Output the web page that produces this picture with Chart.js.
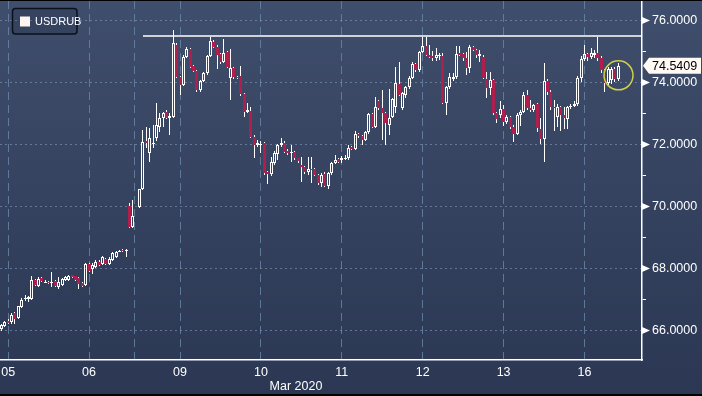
<!DOCTYPE html>
<html>
<head>
<meta charset="utf-8">
<title>USDRUB</title>
<script src="https://cdn.jsdelivr.net/npm/chart.js@4.4.1/dist/chart.umd.min.js"></script>
<style>
  html, body { margin: 0; padding: 0; background: #000; }
  #wrap {
    position: relative;
    width: 702px;
    height: 393px;
    margin-top: 1px;
    background: linear-gradient(to bottom, #3f4e6c 0%, #2b3753 100%);
  }
</style>
</head>
<body>
<div id="wrap"><canvas id="usdrub"></canvas></div>
<script>
/* USDRUB, velas de 1 hora, 5-16 marzo 2020 */

const seriesName = 'USDRUB';
const dayLabels = ['05', '06', '09', '10', '11', '12', '13', '16'];
const labelSlots = [2, 26, 53, 77, 101, 125, 149, 173];     // mediodia de cada sesion
const dayLineSlots = [14, 38, 41, 65, 89, 113, 137, 161];   // inicio de cada sesion
const priceTicks = [66, 67, 68, 69, 70, 71, 72, 73, 74, 75, 76];
const resistance = 75.5;
const resistanceFrom = 42;
const lastPrice = 74.5409;
const markSlot = 183.1;
const markPrice = 74.23;

// slots horarios con vela (el 40 queda vacio, fin de semana)
const slots = [];
for (let s = 0; s <= 183; s++) {
    if (s !== 40) slots.push(s);
}

const open = [
    66.05, 66.15, 66.32, 66.26, 66.56, 66.40, 66.76, 67.00, 67.00, 67.03,
    67.62, 67.42, 67.68, 67.56, 67.57, 67.55, 67.59, 67.41, 67.46, 67.62,
    67.64, 67.78, 67.75, 67.70, 67.53, 67.46, 68.14, 67.97, 68.05, 68.22,
    68.16, 68.32, 68.16, 68.29, 68.38, 68.55, 68.60, 68.56, 70.00, 69.35,
    69.99, 70.55, 72.10, 71.72, 72.00, 72.20, 72.58, 72.85, 73.04, 72.85,
    72.90, 75.20, 74.19, 73.92, 74.83, 75.08, 74.54, 74.37, 73.76, 74.05,
    74.30, 74.87, 75.32, 75.16, 74.91, 74.67, 74.97, 74.13, 74.46, 74.19,
    74.21, 73.63, 73.06, 73.09, 72.25, 71.98, 71.98, 72.04, 71.12, 71.05,
    71.40, 71.69, 71.98, 72.06, 71.80, 71.72, 71.77, 71.55, 71.34, 71.26,
    71.12, 71.22, 71.20, 71.02, 70.75, 71.05, 70.66, 71.07, 71.41, 71.52,
    71.50, 71.55, 71.55, 71.93, 71.85, 72.33, 72.28, 72.14, 72.39, 72.97,
    72.58, 73.40, 73.17, 73.00, 72.63, 72.90, 73.20, 73.94, 73.19, 73.60,
    73.87, 74.16, 74.59, 74.40, 74.99, 75.19, 74.89, 74.85, 74.80, 74.86,
    74.85, 73.33, 73.87, 74.12, 74.17, 74.95, 74.92, 74.78, 74.46, 75.13,
    75.05, 74.85, 74.83, 74.10, 73.81, 74.08, 73.01, 72.95, 73.14, 72.71,
    72.88, 72.58, 72.34, 72.95, 73.06, 73.60, 73.17, 73.11, 73.30, 72.50,
    72.17, 74.06, 73.70, 73.22, 72.90, 73.20, 72.95, 72.81, 73.20, 73.25,
    73.31, 74.13, 74.75, 74.92, 74.82, 74.88, 74.96, 74.78, 74.40, 73.97,
    74.08, 74.43, 74.12
];
const high = [
    66.22, 66.30, 66.36, 66.55, 66.60, 66.80, 67.05, 67.15, 67.12, 67.75,
    67.66, 67.73, 67.72, 67.62, 67.60, 67.89, 67.62, 67.73, 67.70, 67.76,
    67.78, 67.80, 67.77, 67.72, 67.55, 68.18, 68.17, 68.18, 68.28, 68.26,
    68.40, 68.35, 68.36, 68.52, 68.57, 68.60, 68.62, 68.62, 70.12, 70.22,
    70.58, 72.47, 72.58, 72.52, 72.63, 73.33, 73.00, 73.05, 73.10, 73.00,
    75.70, 75.28, 74.22, 74.90, 75.15, 75.12, 74.58, 74.40, 74.08, 74.35,
    74.90, 75.48, 75.36, 75.20, 74.95, 75.40, 75.00, 75.07, 74.50, 74.22,
    74.53, 73.66, 73.35, 73.20, 72.30, 72.15, 72.10, 72.08, 71.16, 71.60,
    71.78, 72.02, 72.20, 72.10, 71.84, 71.98, 71.80, 71.58, 71.60, 71.30,
    71.60, 71.60, 71.24, 71.06, 71.08, 71.10, 71.12, 71.45, 71.66, 71.56,
    71.62, 71.65, 71.98, 71.96, 72.42, 72.38, 72.31, 72.42, 73.00, 73.00,
    73.54, 73.44, 73.75, 73.05, 73.80, 73.50, 74.51, 74.65, 73.70, 73.90,
    74.20, 74.65, 74.62, 75.02, 75.48, 75.48, 75.20, 75.00, 75.10, 74.95,
    74.95, 73.90, 74.30, 74.32, 75.18, 75.18, 74.95, 74.98, 75.22, 75.18,
    75.08, 75.05, 74.88, 74.35, 74.35, 74.10, 73.05, 73.40, 73.28, 72.95,
    72.92, 72.62, 73.00, 73.10, 73.70, 73.75, 73.45, 73.32, 73.35, 72.84,
    74.62, 74.10, 73.75, 73.45, 73.30, 73.25, 73.20, 73.25, 73.30, 73.40,
    74.20, 74.85, 75.20, 74.95, 75.10, 75.05, 75.48, 74.85, 74.45, 74.50,
    74.50, 74.50, 74.62
];
const low = [
    65.98, 66.12, 66.20, 66.22, 66.22, 66.36, 66.74, 66.95, 66.92, 67.00,
    67.44, 67.40, 67.56, 67.52, 67.50, 67.41, 67.40, 67.35, 67.44, 67.60,
    67.62, 67.70, 67.60, 67.35, 67.40, 67.42, 67.90, 67.82, 68.02, 68.08,
    68.12, 68.12, 68.10, 68.26, 68.35, 68.52, 68.54, 68.36, 69.30, 69.30,
    69.95, 70.52, 71.90, 71.45, 71.88, 72.10, 72.40, 72.55, 72.82, 72.30,
    72.85, 74.15, 73.60, 73.88, 74.78, 74.48, 74.33, 73.70, 73.70, 74.00,
    74.25, 74.82, 75.12, 74.45, 74.60, 74.62, 74.48, 73.44, 74.12, 74.10,
    73.58, 72.90, 73.00, 72.20, 71.55, 71.92, 71.72, 71.02, 70.72, 70.98,
    71.35, 71.50, 71.92, 71.72, 71.66, 71.45, 71.50, 71.40, 70.80, 71.05,
    71.00, 70.75, 70.98, 70.70, 70.64, 70.62, 70.58, 71.02, 71.38, 71.42,
    71.40, 71.50, 71.50, 71.82, 71.82, 72.22, 71.98, 72.10, 72.35, 72.55,
    72.52, 73.12, 72.14, 71.98, 72.30, 72.85, 73.00, 73.55, 73.10, 73.50,
    73.80, 74.10, 74.35, 74.35, 74.95, 74.85, 74.78, 74.70, 74.70, 74.72,
    73.30, 72.95, 73.80, 74.05, 74.10, 74.85, 74.70, 74.25, 74.30, 75.00,
    74.80, 74.65, 74.10, 73.50, 73.60, 72.95, 72.70, 72.85, 72.60, 72.65,
    72.50, 72.09, 72.30, 72.60, 73.00, 73.10, 73.05, 73.05, 72.40, 72.00,
    71.45, 73.60, 73.10, 72.45, 72.55, 72.45, 72.50, 72.50, 73.15, 73.20,
    73.25, 74.00, 74.70, 74.70, 74.75, 74.80, 74.70, 74.30, 73.70, 73.90,
    73.95, 74.00, 74.05
];
const close = [
    66.18, 66.28, 66.24, 66.50, 66.36, 66.78, 66.99, 67.06, 67.08, 67.62,
    67.46, 67.67, 67.59, 67.58, 67.53, 67.58, 67.43, 67.57, 67.67, 67.73,
    67.75, 67.73, 67.62, 67.51, 67.43, 68.13, 67.92, 68.10, 68.22, 68.11,
    68.36, 68.16, 68.32, 68.49, 68.54, 68.58, 68.56, 68.60, 69.35, 69.68,
    70.55, 72.07, 72.04, 72.20, 72.05, 72.63, 72.87, 73.00, 72.85, 72.93,
    75.26, 74.19, 73.92, 74.83, 75.08, 74.51, 74.37, 73.76, 74.05, 74.30,
    74.87, 75.34, 75.16, 74.89, 74.67, 74.94, 74.51, 74.48, 74.17, 74.13,
    73.63, 73.06, 73.11, 72.25, 71.98, 72.04, 72.02, 71.07, 71.05, 71.45,
    71.72, 71.98, 72.06, 71.77, 71.72, 71.75, 71.55, 71.48, 71.26, 71.12,
    71.20, 71.19, 71.02, 70.75, 71.02, 70.66, 71.07, 71.41, 71.50, 71.45,
    71.56, 71.58, 71.90, 71.85, 72.33, 72.26, 72.14, 72.39, 72.97, 72.58,
    73.22, 73.17, 73.00, 72.68, 72.84, 73.47, 73.97, 73.60, 73.65, 73.87,
    74.16, 74.59, 74.40, 74.99, 75.19, 74.89, 74.83, 74.80, 74.89, 74.90,
    73.33, 73.87, 74.17, 74.17, 74.92, 74.89, 74.78, 74.46, 75.16, 75.05,
    74.89, 74.92, 74.13, 73.81, 74.08, 73.01, 72.81, 73.14, 72.71, 72.88,
    72.58, 72.34, 72.95, 73.06, 73.60, 73.17, 73.11, 73.27, 72.52, 72.17,
    74.06, 73.70, 73.22, 73.17, 73.20, 72.95, 72.85, 73.20, 73.25, 73.31,
    74.13, 74.75, 74.92, 74.82, 74.95, 74.95, 74.78, 74.40, 73.97, 74.43,
    74.43, 74.12, 74.5409
];

const fontFamily = '"Liberation Sans", Arial, sans-serif';
const upColor = '#ffffff';
const downColor = '#ae1f4d';
const xMin = -0.427;
const xMax = 190.07;
const yMin = 65.048;
const yMax = 76.629;

const isUp = close.map((c, i) => c >= open[i]);
const bodies = slots.map((s, i) => ({ x: s, y: [open[i], close[i]] }));
const upperWicks = slots.map((s, i) => ({ x: s, y: [Math.max(open[i], close[i]), high[i]] }));
const lowerWicks = slots.map((s, i) => ({ x: s, y: [low[i], Math.min(open[i], close[i])] }));

const wickStyle = {
    type: 'bar',
    backgroundColor: '#ffffff',
    borderWidth: 0,
    barThickness: 1,
    grouped: false,
    inflateAmount: 0,
    order: 3
};

// ajusta las barras a pixel entero para que las velas se vean nitidas
const pixelSnap = {
    id: 'pixelSnap',
    beforeDatasetsDraw(chart) {
        chart.data.datasets.forEach((ds, i) => {
            const meta = chart.getDatasetMeta(i);
            if (meta.type !== 'bar') return;
            meta.data.forEach(el => {
                el.x = Math.floor(el.x) + 0.5;
                el.y = Math.round(el.y);
                el.base = Math.round(el.base);
                if (Math.abs(el.base - el.y) < 1) el.base = el.y + 1;
            });
        });
    }
};

const extras = {
    id: 'extras',
    afterDraw(chart) {
        const { ctx, chartArea, scales: { x, y } } = chart;
        ctx.save();

        // marcas del eje de precios
        ctx.fillStyle = '#ffffff';
        priceTicks.filter(v => v % 2 === 0).forEach(v => {
            const py = y.getPixelForValue(v);
            ctx.beginPath();
            ctx.moveTo(chartArea.right, py - 3.5);
            ctx.lineTo(chartArea.right + 8, py);
            ctx.lineTo(chartArea.right, py + 3.5);
            ctx.closePath();
            ctx.fill();
        });

        // ultimo precio
        const ly = y.getPixelForValue(lastPrice);
        ctx.beginPath();
        ctx.moveTo(chartArea.right + 1, ly);
        ctx.lineTo(chartArea.right + 7, ly - 8);
        ctx.lineTo(chart.width - 1, ly - 8);
        ctx.lineTo(chart.width - 1, ly + 8);
        ctx.lineTo(chartArea.right + 7, ly + 8);
        ctx.closePath();
        ctx.fillStyle = '#fffaf4';
        ctx.fill();
        ctx.fillStyle = '#000000';
        ctx.font = '12.5px ' + fontFamily;
        ctx.textBaseline = 'middle';
        ctx.textAlign = 'left';
        ctx.fillText(lastPrice.toFixed(4), chartArea.right + 10, ly + 0.5);

        // circulo amarillo
        ctx.beginPath();
        ctx.arc(x.getPixelForValue(markSlot), y.getPixelForValue(markPrice), 14.5, 0, Math.PI * 2);
        ctx.strokeStyle = '#cfcf4a';
        ctx.lineWidth = 1.5;
        ctx.stroke();

        // leyenda
        ctx.beginPath();
        ctx.roundRect(12.5, 7.5, 64.5, 25.5, 3);
        ctx.fillStyle = 'rgba(30, 40, 62, 0.25)';
        ctx.fill();
        ctx.strokeStyle = '#0b111c';
        ctx.lineWidth = 1.5;
        ctx.stroke();
        ctx.fillStyle = '#fff5f0';
        ctx.fillRect(20, 15.5, 10, 10);
        ctx.fillStyle = '#ffffff';
        ctx.font = '11px "Liberation Sans Narrow", ' + fontFamily;
        ctx.fillText(seriesName, 35, 21);

        // mes
        ctx.font = '12.5px ' + fontFamily;
        ctx.textAlign = 'center';
        ctx.fillText('Mar 2020', 296, 386);
        ctx.restore();
    }
};

const ctx = document.getElementById('usdrub').getContext('2d');
const usdrubChart = new Chart(ctx, {
    type: 'bar',
    data: {
        datasets: [
            {
                type: 'line',
                data: [{ x: resistanceFrom, y: resistance }, { x: xMax, y: resistance }],
                borderColor: '#ffffff',
                borderWidth: 1.5,
                pointRadius: 0,
                order: 0
            },
            {
                label: seriesName,
                data: bodies,
                backgroundColor: isUp.map(u => u ? 'rgba(0,0,0,0)' : downColor),
                borderColor: isUp.map(u => u ? upColor : downColor),
                borderWidth: isUp.map(u => u ? 1 : 0),
                borderSkipped: false,
                barThickness: 3,
                grouped: false,
                inflateAmount: 0,
                order: 1
            },
            Object.assign({ data: upperWicks }, wickStyle),
            Object.assign({ data: lowerWicks }, wickStyle)
        ]
    },
    options: {
        responsive: true,
        maintainAspectRatio: false,
        animation: false,
        layout: { padding: 0 },
        plugins: {
            legend: { display: false },
            tooltip: { enabled: false }
        },
        scales: {
            x: {
                type: 'linear',
                min: xMin,
                max: xMax,
                offset: false,
                afterBuildTicks: sc => { sc.ticks = labelSlots.map(v => ({ value: v })); },
                afterFit: sc => { sc.height = 34; sc.paddingLeft = 0; sc.paddingRight = 0; },
                ticks: {
                    color: '#ffffff',
                    font: { family: fontFamily, size: 12.5 },
                    autoSkip: false,
                    maxRotation: 0,
                    padding: 5,
                    callback: v => dayLabels[labelSlots.indexOf(v)] || ''
                },
                grid: { display: false, drawTicks: false },
                border: { color: '#ffffff', width: 1.5 }
            },
            xg: {
                type: 'linear',
                position: 'top',
                min: xMin,
                max: xMax,
                offset: false,
                afterBuildTicks: sc => { sc.ticks = dayLineSlots.map(v => ({ value: v })); },
                afterFit: sc => { sc.height = 0; sc.paddingLeft = 0; sc.paddingRight = 0; },
                ticks: { display: false },
                grid: { color: 'rgba(105, 135, 168, 0.8)', drawTicks: false, lineWidth: 1 },
                border: { display: false, dash: [8, 5] }
            },
            y: {
                position: 'right',
                min: yMin,
                max: yMax,
                afterBuildTicks: sc => { sc.ticks = priceTicks.map(v => ({ value: v })); },
                afterFit: sc => { sc.width = 60; sc.paddingTop = 0; sc.paddingBottom = 0; },
                ticks: {
                    color: '#ffffff',
                    font: { family: fontFamily, size: 12.5 },
                    padding: 6,
                    callback: v => (v % 2 === 0 ? v.toFixed(4) : '')
                },
                grid: {
                    color: c => (c.tick && c.tick.value % 2 === 0 ? 'rgba(135, 155, 185, 0.6)' : 'rgba(0,0,0,0)'),
                    tickColor: c => (c.tick && c.tick.value % 2 !== 0 ? '#ffffff' : 'rgba(0,0,0,0)'),
                    tickLength: 4,
                    lineWidth: 1
                },
                border: { color: '#ffffff', width: 1.5, dash: [2, 3] }
            }
        }
    },
    plugins: [pixelSnap, extras]
});
</script>
</body>
</html>
